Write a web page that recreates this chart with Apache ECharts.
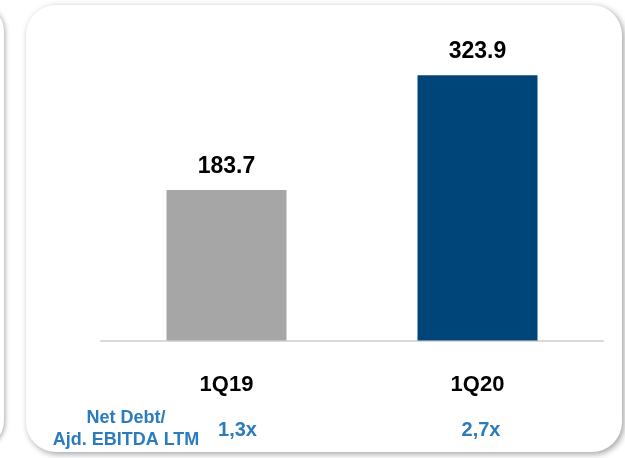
<!DOCTYPE html>
<html>
<head>
<meta charset="utf-8">
<script src="https://cdn.jsdelivr.net/npm/echarts@6/dist/echarts.min.js"></script>
<style>
  html, body { margin: 0; padding: 0; background: #ffffff; }
  #chart { width: 625px; height: 458px; }
</style>
</head>
<body>
<div id="chart"></div>
<script>
// Quarter categories and net debt values
const quarters = ['1Q19', '1Q20'];
const netDebt = [183.7, 323.9];
// Net Debt / Adjusted EBITDA LTM multiple for each quarter
const leverage = ['1,3x', '2,7x'];
const barColors = ['#a6a6a6', '#00457a'];
const ratioTitle = 'Net Debt/\nAjd. EBITDA LTM';

const chart = echarts.init(document.getElementById('chart'), null, { renderer: 'canvas' });

const FONT = 'Liberation Sans, Arial, sans-serif';
const BLUE_TEXT = '#2b7bbd';

chart.setOption({
  backgroundColor: '#ffffff',
  animation: false,
  graphic: [
    // neighbouring panel peeking in on the left
    {
      type: 'rect', z: -10, silent: true,
      shape: { x: -400, y: 5, width: 404, height: 442, r: 26 },
      style: { fill: '#ffffff', shadowBlur: 5, shadowColor: 'rgba(0,0,0,0.35)', shadowOffsetX: 1, shadowOffsetY: 1 }
    },
    // main panel
    {
      type: 'rect', z: -10, silent: true,
      shape: { x: 26, y: 5, width: 596, height: 447, r: 30 },
      style: { fill: '#ffffff', shadowBlur: 6, shadowColor: 'rgba(0,0,0,0.38)', shadowOffsetX: 2, shadowOffsetY: 2 }
    },
    {
      type: 'text', z: 10, silent: true,
      x: 126, y: 407,
      style: {
        text: ratioTitle, textAlign: 'center', textVerticalAlign: 'top',
        font: 'bold 18px ' + FONT, lineHeight: 22, fill: BLUE_TEXT
      }
    }
  ],
  grid: { left: 101, right: 22, top: 12.8, bottom: 117.5, containLabel: false },
  xAxis: [
    {
      type: 'category',
      data: quarters,
      axisLine: { show: true, lineStyle: { color: '#d9d9d9', width: 2 } },
      axisTick: { show: false },
      axisLabel: { margin: 33, color: '#000000', fontFamily: FONT, fontWeight: 'bold', fontSize: 22 }
    },
    {
      type: 'category',
      position: 'bottom',
      offset: 70,
      data: leverage,
      axisLine: { show: false },
      axisTick: { show: false },
      axisLabel: {
        margin: 10, color: BLUE_TEXT, fontFamily: FONT, fontWeight: 'bold', fontSize: 20,
        formatter: (v, i) => '{r' + i + '|' + v + '}',
        rich: {
          r0: { padding: [0, 0, 0, 22], color: BLUE_TEXT, fontFamily: FONT, fontWeight: 'bold', fontSize: 20 },
          r1: { padding: [0, 0, 0, 7], color: BLUE_TEXT, fontFamily: FONT, fontWeight: 'bold', fontSize: 20 }
        }
      }
    }
  ],
  yAxis: {
    type: 'value', min: 0, max: 400, show: false,
    splitLine: { show: false }
  },
  series: [{
    type: 'bar',
    data: netDebt.map((v, i) => ({ value: v, itemStyle: { color: barColors[i] } })),
    barWidth: 120,
    label: {
      show: true, position: 'top', distance: 12,
      color: '#000000', fontFamily: FONT, fontWeight: 'bold', fontSize: 23,
      formatter: p => p.value.toFixed(1)
    }
  }]
});
</script>
</body>
</html>
